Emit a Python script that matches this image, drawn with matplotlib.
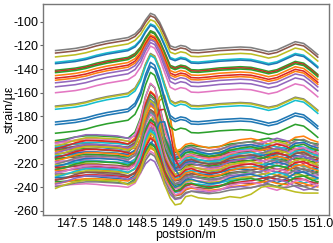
import numpy as np
import matplotlib
matplotlib.use("Agg")
import matplotlib.pyplot as plt

# ---------------- data ----------------
positions = [147.27, 147.4, 147.55, 147.7, 147.85, 148.0, 148.15, 148.3,
             148.4, 148.48, 148.55, 148.62, 148.68, 148.75, 148.82, 148.9,
             148.97, 149.05, 149.12, 149.2, 149.3, 149.45, 149.6, 149.75,
             149.9, 150.05, 150.2, 150.3, 150.42, 150.55, 150.68, 150.8,
             150.9, 151.0]

# shape of the upper curves relative to their start value
upper_shape = [0, 0.8, 1.8, 3.5, 6, 8, 9.5, 11,
               14, 19, 26, 31.5, 30, 24, 15, 4,
               2.5, 4.3, 3.5, 0.5, 0.2, 1, 2, 2.5, 3, 2.5,
               0.5, -1, 0.5, 4, 7.5, 6, 1.5, -3.5]

# peak bump (normalised) at 148.62 m and the delayed one at 148.82 m
bump = [0, 0, 0, 0, 0, 0, 0, 0,
        0.1, 0.35, 0.75, 1.0, 0.95, 0.65, 0.3, 0.08,
        0, 0, 0, 0, 0, 0, 0, 0, 0, 0, 0, 0, 0, 0, 0, 0, 0, 0]
late_bump = [0, 0, 0, 0, 0, 0, 0, 0,
             0, 0.03, 0.12, 0.35, 0.6, 0.9, 1.0, 0.7,
             0.25, 0.05, 0, 0, 0, 0, 0, 0, 0, 0, 0, 0, 0, 0, 0, 0, 0, 0]

# shapes of the lower curves relative to their start value
lower_shapes = [
    [0, 1, 3, 4, 4, 3.5, 3, 2,
     2.5, 3, 2, 1, 0, -1, -3, -6,
     -10, -9, -5, -4, -5, -6, -5, -3, -2, -1, 1, 2, 0, -1, 1, 0, -2, -3],
    [0, 0.5, 1, 1.5, 1, 0, -0.5, -1.5,
     -1, 0, 0, -1, -2, -3, -4, -5,
     -8, -6, -2, -1, -3, -5, -4, 0, 2, 3, 1, -2, -4, -1, 4, 5, 2, 0],
    [0, 2, 5, 7, 7, 6.5, 6, 4,
     3, 3, 3, 2, 1, -2, -6, -10,
     -13, -12, -8, -6, -6, -7, -5, -3, -2, -3, -1, 2, 4, 2, -2, -5, -4, -1],
    [0, 3, 5.5, 7, 7, 6.5, 6.5, 3,
     2, 3, 3, 2, 0, -3, -7, -11,
     -14, -13, -7, -6, -8, -9, -9, -7, -8, -5, 1, 2, 1, -1, -3, -4, -4, -4],
]

# upper group: start value, extra peak height
upper_start = [-124.3, -126.4, -129.7, -134.3, -135.4, -141.0, -142.0, -143.0,
               -145.5, -147.7, -149.4, -151.6, -155.0, -160.0, -171.3, -172.0,
               -174.0, -184.8, -187.0, -194.3]
upper_extra = [0, 0, 0, 1, 1, 2, 2, 3,
               3, 4, 4, 5, 6, 8, 13, 13,
               14, 19, 18, 20]
upper_colors = ["#7f7f7f", "#8c564b", "#bcbd22", "#17becf", "#1f77b4", "#2ca02c",
                "#d62728", "#2ca02c", "#ff7f0e", "#d62728", "#ff7f0e", "#9467bd",
                "#9467bd", "#e377c2", "#7f7f7f", "#bcbd22", "#17becf", "#1f77b4",
                "#1f77b4", "#2ca02c"]

# lower group: start value, peak rise, shape index, delayed peak (1) or not (0)
lower_start = [-200.5, -201.8, -202.6, -203.0, -204.6, -205.2, -206.1, -206.9,
               -207.5, -208.3, -208.8, -209.6, -210.9, -211.4, -212.0, -212.7,
               -213.5, -214.2, -215.0, -215.6, -216.3, -217.8, -218.4, -219.1,
               -220.5, -221.2, -222.0, -222.6, -223.3, -224.7, -225.4, -226.0,
               -227.3, -228.5, -229.0, -230.2, -231.4, -232.1, -233.6, -234.3,
               -235.5, -236.8, -237.4, -238.6, -239.5, -241.0]
lower_rise = [47, 44, 30, 50, 38, 49, 36, 42,
              46, 33, 48, 49, 40, 35, 48, 44,
              38, 30, 47, 42, 37, 45, 33, 40,
              43, 36, 28, 44, 39, 34, 41, 30,
              37, 40, 27, 35, 38, 31, 34, 26,
              33, 29, 19, 30, 27, 34]
lower_kind = [0, 1, 2, 0, 1, 2, 0, 1,
              2, 0, 1, 0, 2, 1, 0, 2,
              1, 0, 2, 1, 0, 2, 1, 0,
              2, 1, 0, 2, 1, 0, 2, 1,
              0, 2, 1, 0, 2, 1, 0, 2,
              1, 0, 2, 1, 0, 3]
lower_late = [0, 0, 0, 0, 0, 1, 0, 0,
              0, 0, 0, 1, 0, 0, 0, 0,
              0, 0, 1, 0, 0, 0, 0, 0,
              0, 0, 0, 1, 0, 0, 0, 0,
              0, 0, 0, 0, 0, 0, 0, 0,
              0, 0, 0, 0, 0, 0]
lower_colors = ["#1f77b4", "#d62728", "#8c564b", "#2ca02c", "#ff7f0e", "#9467bd",
                "#e377c2", "#7f7f7f", "#bcbd22", "#17becf"]

x_ticks = [147.5, 148.0, 148.5, 149.0, 149.5, 150.0, 150.5, 151.0]
y_ticks = [-100, -120, -140, -160, -180, -200, -220, -240, -260]

# ---------------- plot ----------------
plt.rcParams['font.family'] = ['Liberation Sans', 'DejaVu Sans']
plt.rcParams['axes.unicode_minus'] = False
fig = plt.figure(figsize=(3.33, 2.43), dpi=100)
ax = fig.add_axes([0.129, 0.116, 0.859, 0.868])

x = np.array(positions)

for i, (s, r, k, late) in enumerate(zip(lower_start, lower_rise, lower_kind, lower_late)):
    shape = np.array(lower_shapes[k])
    b = np.array(late_bump) if late else np.array(bump)
    y = s + shape + r * b
    ax.plot(x, y, color=lower_colors[(i + 3) % 10], lw=1.15, solid_joinstyle='round')

for s, e, c in zip(upper_start, upper_extra, upper_colors):
    y = s + np.array(upper_shape) + e * np.array(bump)
    ax.plot(x, y, color=c, lw=1.15, solid_joinstyle='round')

ax.set_xlim(147.09, 151.16)
ax.set_ylim(-263.4, -84.8)
ax.set_xticks(x_ticks)
ax.set_xticklabels([f"{v:.1f}" for v in x_ticks])
ax.set_yticks(y_ticks)
ax.tick_params(axis='both', labelsize=9.0, length=2, width=0.8, color='#666666', pad=1.0)
ax.tick_params(axis='x', pad=0.6)
for sp in ax.spines.values():
    sp.set_color('#777777')
    sp.set_linewidth(1.0)
ax.set_xlabel("postsion/m", fontsize=9.0, labelpad=-0.8)
ax.set_ylabel("strain/με", fontsize=9.0, labelpad=-1)

fig.savefig("out.png", dpi=100)
